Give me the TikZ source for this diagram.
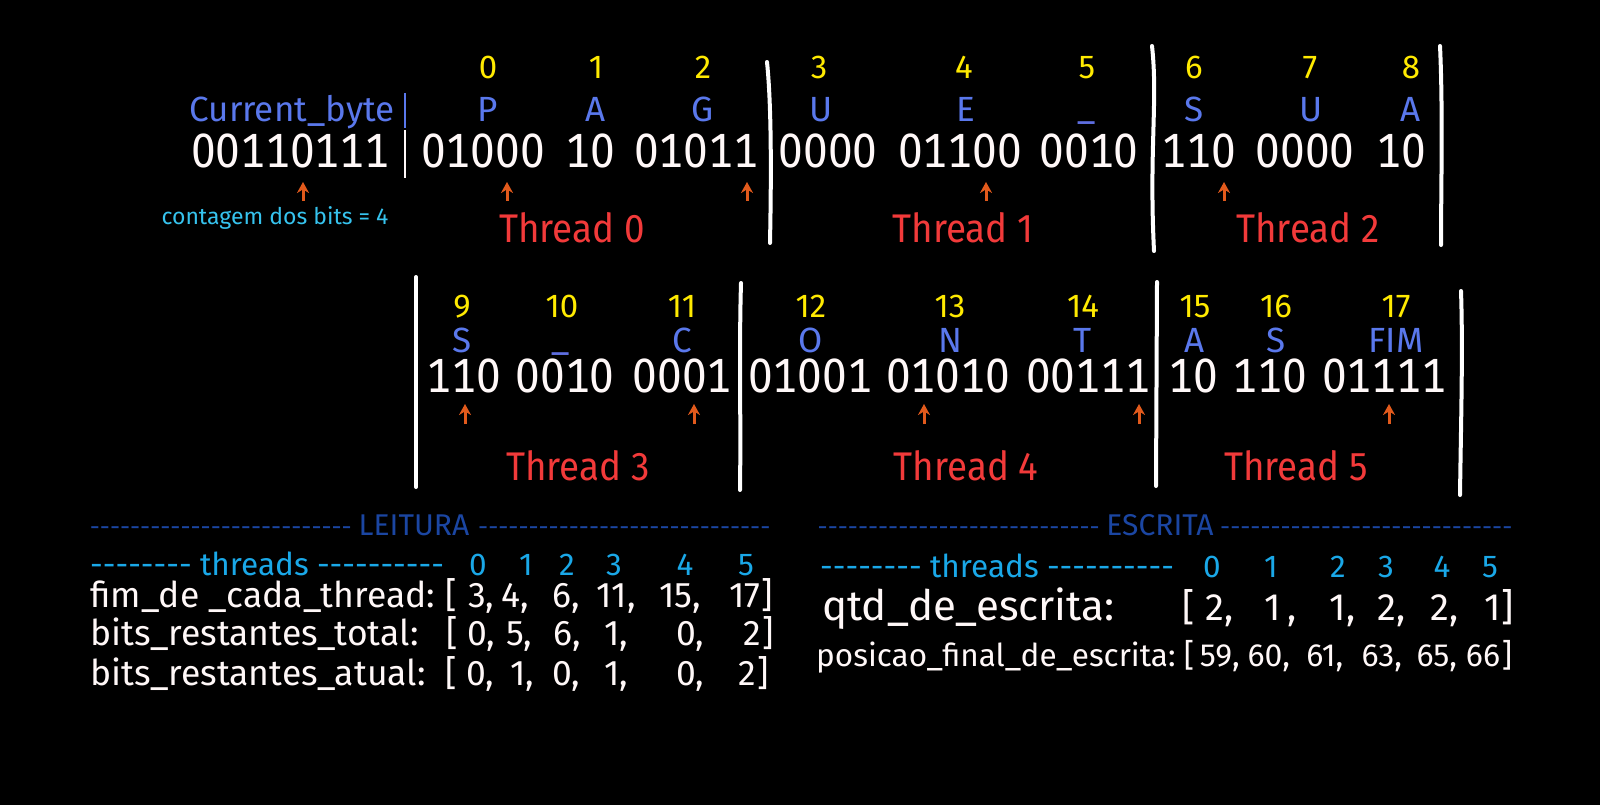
\documentclass[tikz,border=0pt]{standalone}
\usepackage{fontspec}
\setmainfont{Fira Sans}
\newfontfamily\bitfont{Fira Sans}[Numbers=Monospaced, FakeStretch=0.92]
\newfontfamily\thrfont{Fira Sans}[FakeStretch=0.92]
\usetikzlibrary{arrows.meta}

\definecolor{idxyellow}{HTML}{FFEA00}
\definecolor{chrblue}{HTML}{5A78EC}
\definecolor{undblue}{HTML}{5E6EE0}
\definecolor{thrred}{HTML}{F23A3A}
\definecolor{cntcyan}{HTML}{36C3EE}
\definecolor{thcyan}{HTML}{1AA8E8}
\definecolor{hdrblue}{HTML}{1B46A2}
\definecolor{ptrorange}{HTML}{E25A1C}
\definecolor{bitwhite}{HTML}{FFF8F8}

\newcommand{\hyph}[1]{\foreach \k in {1,...,#1}{-}}

\tikzset{
    idx/.style={text=idxyellow, anchor=base, inner sep=0pt, font=\fontsize{33}{35}\selectfont},
    chr/.style={text=chrblue, anchor=base, inner sep=0pt, font=\fontsize{35}{37}\selectfont},
    bits/.style={text=bitwhite, anchor=base, inner sep=0pt, font=\bitfont\fontsize{48}{50}\selectfont},
    thr/.style={text=thrred, anchor=base, inner sep=0pt, font=\thrfont\fontsize{40}{42}\selectfont},
    ptr/.style={draw=ptrorange, line width=3pt, -{Stealth[length=11pt,width=12pt]}},
    sep/.style={draw=white, line width=4pt, line cap=round},
    hdr/.style={text=hdrblue, anchor=base, inner sep=0pt, font=\fontsize{30}{32}\selectfont},
    hdash/.style={hdr, font=\fontsize{25}{27}\selectfont},
    thl/.style={text=thcyan, anchor=base, inner sep=0pt, font=\fontsize{31.5}{34}\selectfont},
    tbl/.style={text=bitwhite, anchor=base, inner sep=0pt, font=\fontsize{35.5}{38}\selectfont}
}

\begin{document}
\begin{tikzpicture}[x=1pt,y=-1pt]
    \fill[black] (0,0) rectangle (1600,805);

    % Current byte
    \node[chr] (cur) at (292,122) {Current\_byte};
    \node[bits] (bcur) at (290,168) {00110111};
    \draw[chrblue, line width=2pt] (405,93) -- (405,128);
    \draw[bitwhite, line width=2pt] (405,130) -- (405,178);
    \node[text=cntcyan, anchor=base, inner sep=0pt, font=\fontsize{23}{25}\selectfont] (cnt) at (275,224) {contagem dos bits = 4};

    % Row 1: symbols 0..8
    \foreach \x/\n in {488/0,596/1,703/2,819/3,964/4,1087/5,1194/6,1310/7,1411/8}
        \node[idx] (i\n) at (\x,79) {\n};
    \foreach \x/\c/\n in {488/P/0,596/A/1,703/G/2,821/U/3,966/E/4,1194/S/6,1311/U/7,1411/A/8}
        \node[chr] (c\n) at (\x,122) {\c};
    \node[chr, text=undblue] (c5) at (1087,120) {\_};
    \foreach \x/\b [count=\k] in {483/01000,590/10,696/01011,828/0000,960/01100,1089/0010,1199/110,1305/0000,1401/10}
        \node[bits] (b\k) at (\x,168) {\b};

    % Row 2: symbols 9..17
    \foreach \x/\n in {462/9,562/10,682/11,811/12,950/13,1083/14,1195/15,1276/16,1396/17}
        \node[idx] (i\n) at (\x,317) {\n};
    \foreach \x/\c/\n in {462/S/9,682/C/11,811/O/12,950/N/13,1083/T/14,1195/A/15,1276/S/16,1396/FIM/17}
        \node[chr] (c\n) at (\x,352) {\c};
    \node[chr, text=undblue] (c10) at (561,350) {\_};
    \foreach \x/\b [count=\k from 10] in {464/110,565/0010,682/0001,810/01001,948/01010,1088/00111,1193/10,1270/110,1384/01111}
        \node[bits] (b\k) at (\x,392) {\b};

    % Bit pointers
    \foreach \x in {303,507,747,986,1224}
        \draw[ptr] (\x,201) -- (\x,182);
    \foreach \x in {465,694,924,1139,1389}
        \draw[ptr] (\x,424) -- (\x,404);

    % Thread borders
    \draw[sep] (767,62) .. controls (772,110) and (771,190) .. (770,243);
    \draw[sep] (1152,46) .. controls (1158,100) and (1149,150) .. (1154,251);
    \draw[sep] (1440,46) .. controls (1443,110) and (1441,190) .. (1441,245);
    \draw[sep] (416,277) -- (416,487);
    \draw[sep] (741,283) .. controls (739,350) and (741,420) .. (740,490);
    \draw[sep] (1157,282) -- (1156,486);
    \draw[sep] (1461,291) .. controls (1463,350) and (1461,420) .. (1460,495);

    % Thread labels
    \foreach \x/\y/\n in {572/242/0,963/242/1,1308/242/2,578/480/3,966/480/4,1296/480/5}
        \node[thr] (t\n) at (\x,\y) {Thread \n};

    % LEITURA
    \node[hdash, anchor=base east] (ldl) at (352,535) {\hyph{26}};
    \node[hdr] (leit) at (414,535) {LEITURA};
    \node[hdash, anchor=base west] (ldr) at (478,535) {\hyph{29}};
    \node[thl, anchor=base west] (lth) at (90,575) {\hyph{8} threads \hyph{10}};
    \foreach \x/\n in {478/0,526/1,567/2,614/3,685/4,746/5}
        \node[thl] (lt\n) at (\x,575) {\n};

    \node[tbl, anchor=base west] (fim) at (90,607) {fim\_de \_cada\_thread:};
    \node[tbl] (fimo) at (451,607) {[};
    \foreach \x/\v/\s [count=\k] in {477/3/{,},511/4/{,},562/6/{,},612/11/{,},676/15/{,},745/17/{}}
        \node[tbl] (fim\k) at (\x,607) {\v\rlap{\s}};
    \node[tbl] (fimc) at (767,607) {]};

    \node[tbl, anchor=base west] (tot) at (90,645) {bits\_restantes\_total:};
    \node[tbl] (toto) at (452,645) {[};
    \foreach \x/\v/\s [count=\k] in {477/0/{,},515/5/{,},563/6/{,},612/1/{,},686/0/{,},752/2/{}}
        \node[tbl] (tot\k) at (\x,645) {\v\rlap{\s}};
    \node[tbl] (totc) at (768,645) {]};

    \node[tbl, anchor=base west] (atu) at (90,685) {bits\_restantes\_atual:};
    \node[tbl] (atuo) at (451,685) {[};
    \foreach \x/\v/\s [count=\k] in {476/0/{,},518/1/{,},562/0/{,},612/1/{,},686/0/{,},747/2/{}}
        \node[tbl] (atu\k) at (\x,685) {\v\rlap{\s}};
    \node[tbl] (atuc) at (763,685) {]};

    % ESCRITA
    \node[hdash, anchor=base east] (edl) at (1100,535) {\hyph{28}};
    \node[hdr] (escr) at (1160,535) {ESCRITA};
    \node[hdash, anchor=base west] (edr) at (1220,535) {\hyph{29}};
    \node[thl, anchor=base west] (rth) at (820,577) {\hyph{8} threads \hyph{10}};
    \foreach \x/\n in {1212/0,1271/1,1338/2,1386/3,1442/4,1490/5}
        \node[thl] (rt\n) at (\x,577) {\n};

    \node[tbl, anchor=base west, font=\fontsize{42}{44}\selectfont] (qtd) at (822,620) {qtd\_de\_escrita:};
    \node[tbl, font=\fontsize{38}{40}\selectfont] (qtdo) at (1189,620) {[};
    \foreach \x/\v/\s [count=\k] in {1215/2/{,},1273/1/{\,,},1338/1/{,},1387/2/{,},1440/2/{,},1493/1/{}}
        \node[tbl, font=\fontsize{38}{40}\selectfont] (qtd\k) at (\x,620) {\v\rlap{\s}};
    \node[tbl, font=\fontsize{38}{40}\selectfont] (qtdc) at (1508,620) {]};

    \node[tbl, anchor=base west, font=\fontsize{31.5}{34}\selectfont] (pos) at (816,666) {posicao\_final\_de\_escrita:};
    \node[tbl, font=\fontsize{32}{34}\selectfont] (poso) at (1189,666) {[};
    \foreach \x/\v/\s [count=\k] in {1216/59/{,},1265/60/{,},1321/61/{,},1378/63/{,},1433/65/{,},1483/66/{}}
        \node[tbl, font=\fontsize{32}{34}\selectfont] (pos\k) at (\x,666) {\v\rlap{\s}};
    \node[tbl, font=\fontsize{32}{34}\selectfont] (posc) at (1507,666) {]};
\end{tikzpicture}
\end{document}
